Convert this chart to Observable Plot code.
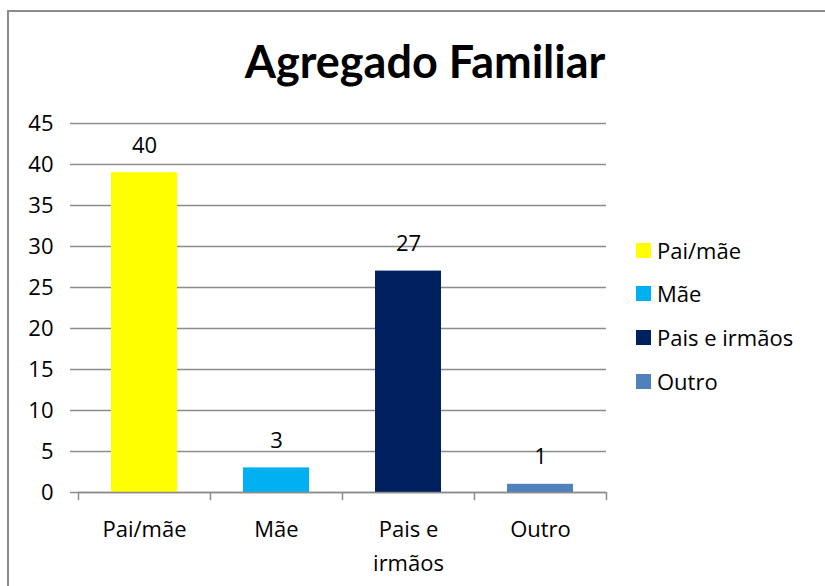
<!DOCTYPE html>
<html>
<head>
<meta charset="utf-8">
<script src="https://cdn.jsdelivr.net/npm/d3@7"></script>
<script src="https://cdn.jsdelivr.net/npm/@observablehq/plot@0.6"></script>
<style>
  html, body { margin: 0; padding: 0; background: #fff; }
  #wrap { position: relative; width: 825px; height: 586px; overflow: hidden; font-family: "Open Sans", Lato, sans-serif; }
  #border { position: absolute; left: 7px; top: 10px; width: 900px; height: 700px; border: 2px solid #8c8c8c; box-sizing: border-box; }
  #title { position: absolute; left: 0; width: 850px; top: 35px; text-align: center; font-family: Lato, sans-serif; font-weight: 700; font-size: 45px; line-height: 52px; color: #000; }
  #chart { position: absolute; left: 0; top: 100px; }
  #legend { position: absolute; left: 636px; top: 0; }
  .item { position: absolute; left: 0; white-space: nowrap; font-size: 22px; color: #000; display: flex; align-items: center; height: 30px; }
  .sw { width: 15px; height: 15px; margin-right: 6px; }
</style>
</head>
<body>
<div id="wrap">
  <div id="border"></div>
  <div id="title">Agregado Familiar</div>
  <div id="chart"></div>
  <div id="legend"></div>
</div>
<script>
const categories = ["Pai/mãe", "Mãe", "Pais e irmãos", "Outro"];
const values = [39, 3, 27, 1];
const valueLabels = ["40", "3", "27", "1"];
const tickLabels = ["Pai/mãe", "Mãe", "Pais e\nirmãos", "Outro"];
const colors = ["#FFFF00", "#00B0F0", "#002060", "#4F81BD"];
const yTicks = [0, 5, 10, 15, 20, 25, 30, 35, 40, 45];

const data = categories.map((c, i) => ({cat: c, value: values[i], label: valueLabels[i], tick: tickLabels[i]}));
const step = 132;

const plot = Plot.plot({
  width: 620,
  height: 486,
  marginLeft: 78,
  marginRight: 14,
  marginTop: 23,
  marginBottom: 94,
  style: {fontFamily: "'Open Sans', Lato, sans-serif", fontSize: "22px", color: "#000", background: "transparent"},
  x: {domain: categories, paddingInner: 0.5, paddingOuter: 0.25, axis: null},
  y: {domain: [0, 45], axis: null},
  color: {domain: categories, range: colors},
  marks: [
    Plot.gridY(yTicks, {stroke: "#8c8c8c", strokeOpacity: 1, strokeWidth: 1.5}),
    Plot.axisY(yTicks, {tickSize: 8, tickPadding: 17, stroke: "#8c8c8c", strokeWidth: 1.5, fontSize: 22, fill: "#000", label: null}),
    Plot.barY(data, {x: "cat", y: "value", fill: "cat"}),
    Plot.ruleX([0], {x: () => 0, frameAnchor: "left", stroke: "#8c8c8c", strokeWidth: 1.5}),
    Plot.ruleY([0], {stroke: "#8c8c8c", strokeWidth: 1.5}),
    Plot.ruleX(data, {x: "cat", dx: -step / 2, y1: 0, y2: -1, stroke: "#8c8c8c", strokeWidth: 1.5}),
    Plot.ruleX([data[data.length - 1]], {x: "cat", dx: step / 2, y1: 0, y2: -1, stroke: "#8c8c8c", strokeWidth: 1.5}),
    Plot.text(data, {x: "cat", y: "value", text: "label", dy: -27, fontSize: 22, fill: "#000"}),
    Plot.text(data, {x: "cat", y: 0, text: "tick", dy: 20, lineAnchor: "top", lineHeight: 1.55, fontSize: 22, fill: "#000"})
  ]
});
document.getElementById("chart").appendChild(plot);

const legend = document.getElementById("legend");
const centers = [250, 293, 337, 381];
categories.forEach((c, i) => {
  const it = document.createElement("div");
  it.className = "item";
  it.style.top = (centers[i] - 15) + "px";
  const sw = document.createElement("div");
  sw.className = "sw";
  sw.style.background = colors[i];
  const t = document.createElement("span");
  t.textContent = c;
  it.appendChild(sw);
  it.appendChild(t);
  legend.appendChild(it);
});
</script>
</body>
</html>
